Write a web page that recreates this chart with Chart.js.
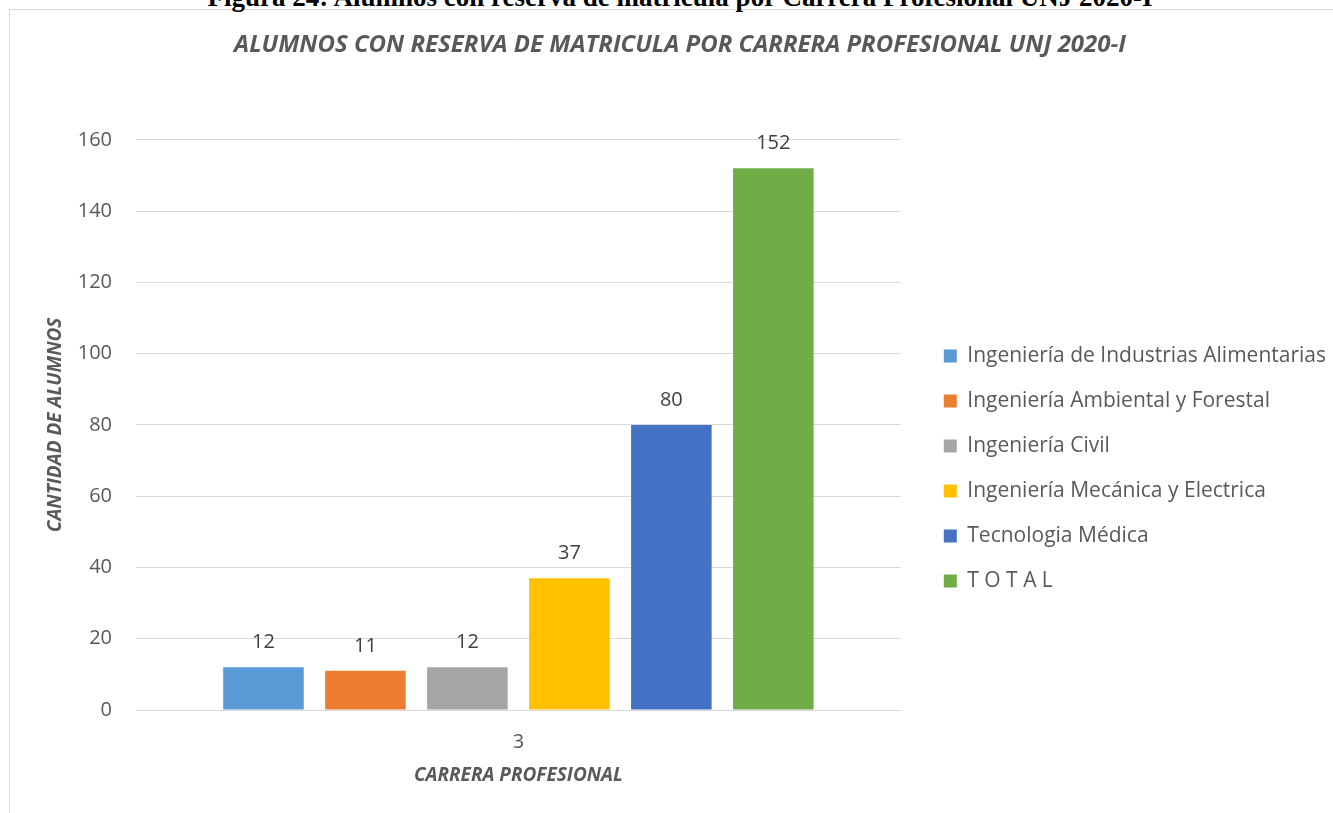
<!DOCTYPE html>
<html>
<head>
<meta charset="UTF-8">
<title>index.html</title>
<script src="https://cdn.jsdelivr.net/npm/chart.js"></script>
<style>
    html, body { margin: 0; padding: 0; background: #fff; overflow: hidden; }
    #frame { position: absolute; left: 9px; top: 9px; width: 1330px; height: 810px;
             border-left: 1px solid #d9d9d9; border-top: 1px solid #d9d9d9; }
    #caption { position: absolute; left: 0; top: -16px; width: 1360px; text-align: center;
               font: bold 27px "Liberation Serif", "Times New Roman", serif; line-height: 27px; color: #000; }
    #chart { position: absolute; left: 0; top: 0; }
</style>
</head>
<body>
<div id="frame"></div>
<div id="caption">Figura 24: Alumnos con reserva de matricula por Carrera Profesional UNJ 2020-I</div>
<canvas id="chart" width="1333" height="813"></canvas>

<script>
    // datos
    const categories = ['3'];
    const seriesNames = [
        'Ingeniería de Industrias Alimentarias',
        'Ingeniería Ambiental y Forestal',
        'Ingeniería Civil',
        'Ingeniería Mecánica y Electrica',
        'Tecnologia Médica',
        'T O T A L'
    ];
    const seriesValues = [12, 11, 12, 37, 80, 152];
    const seriesColors = ['#5B9BD5', '#ED7D31', '#A5A5A5', '#FFC000', '#4472C4', '#70AD47'];
    const yMax = 160;
    const yStep = 20;

    const FONT = '"Open Sans", "Noto Sans", sans-serif';

    // etiquetas encima de cada barra
    const barLabels = {
        id: 'barLabels',
        afterDatasetsDraw(chart) {
            const ctx = chart.ctx;
            ctx.save();
            ctx.font = '20px ' + FONT;
            ctx.fillStyle = '#404040';
            ctx.textAlign = 'center';
            ctx.textBaseline = 'middle';
            chart.data.datasets.forEach(function(ds, i) {
                const meta = chart.getDatasetMeta(i);
                meta.data.forEach(function(bar, j) {
                    ctx.fillText(String(ds.data[j]), bar.x, bar.y - 25);
                });
            });
            ctx.restore();
        }
    };

    const datasets = seriesNames.map(function(name, i) {
        return {
            label: name,
            data: [seriesValues[i]],
            backgroundColor: seriesColors[i],
            borderWidth: 0,
            categoryPercentage: 0.8,
            barPercentage: 0.79
        };
    });

    new Chart(document.getElementById('chart'), {
        type: 'bar',
        data: { labels: categories, datasets: datasets },
        plugins: [barLabels],
        options: {
            responsive: false,
            animation: false,
            layout: { padding: { left: 24, right: -3, top: 0, bottom: 0 } },
            plugins: {
                title: {
                    display: true,
                    text: 'ALUMNOS CON RESERVA DE MATRICULA POR CARRERA PROFESIONAL UNJ 2020-I',
                    color: '#595959',
                    font: { family: FONT, size: 24, weight: 'bold', style: 'italic' },
                    padding: { top: 31, bottom: 80 }
                },
                legend: {
                    position: 'right',
                    maxWidth: 600,
                    title: { display: true, text: '', font: { size: 10 }, padding: { top: 112, bottom: 0 } },
                    labels: {
                        boxWidth: 13,
                        boxHeight: 13,
                        padding: 24,
                        color: '#595959',
                        font: { family: FONT, size: 21 }
                    }
                },
                tooltip: { enabled: false }
            },
            scales: {
                x: {
                    grid: { display: false, drawTicks: false },
                    border: { display: true, color: '#d9d9d9', width: 1 },
                    ticks: { color: '#595959', padding: 20, font: { family: FONT, size: 20 } },
                    title: {
                        display: true,
                        text: 'CARRERA PROFESIONAL',
                        color: '#595959',
                        font: { family: FONT, size: 19, weight: 'bold', style: 'italic' },
                        padding: { top: 0, bottom: 26 }
                    },
                    afterFit: function(scale) { scale.height = 103; }
                },
                y: {
                    min: 0,
                    max: yMax,
                    grid: { color: '#d9d9d9', drawTicks: false },
                    border: { display: false },
                    ticks: { stepSize: yStep, color: '#595959', padding: 24, font: { family: FONT, size: 20 } },
                    title: {
                        display: true,
                        text: 'CANTIDAD DE ALUMNOS',
                        color: '#595959',
                        font: { family: FONT, size: 19, weight: 'bold', style: 'italic' },
                        padding: { top: 20, bottom: 0 }
                    },
                    afterFit: function(scale) { scale.width = 112; }
                },
                // eje vacío: sólo separa el gráfico de la leyenda
                gap: {
                    type: 'linear',
                    position: 'right',
                    grid: { display: false, drawTicks: false },
                    border: { display: false },
                    ticks: { display: false },
                    afterFit: function(scale) { scale.width = 19; }
                }
            }
        }
    });
</script>
</body>
</html>
